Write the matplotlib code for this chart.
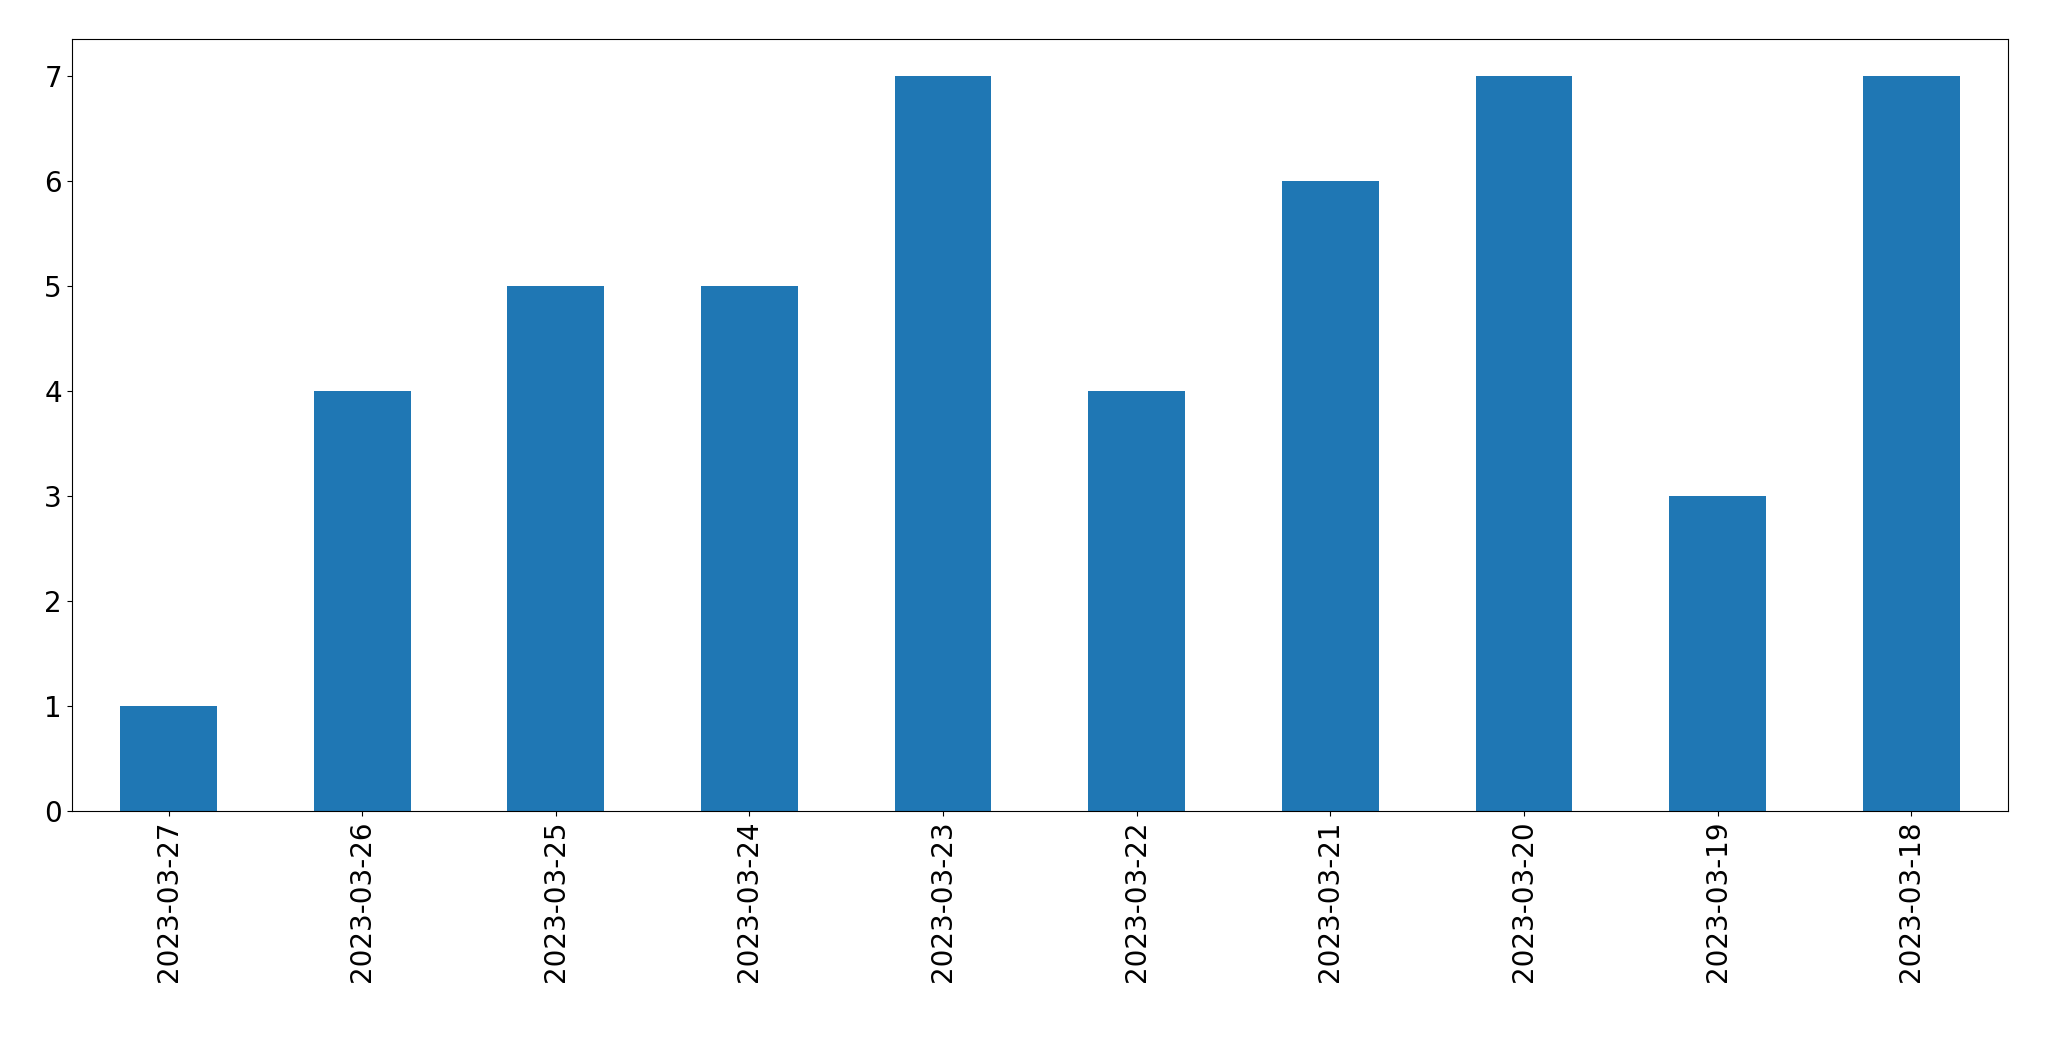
import pandas as pd
import matplotlib.pyplot as plt

dates = ['2023-03-27', '2023-03-26', '2023-03-25', '2023-03-24', '2023-03-23',
         '2023-03-22', '2023-03-21', '2023-03-20', '2023-03-19', '2023-03-18']
counts = [1, 4, 5, 5, 7, 4, 6, 7, 3, 7]

s = pd.Series(counts, index=dates)

fig, ax = plt.subplots(figsize=(20.49, 10.61), dpi=100)
s.plot(kind='bar', ax=ax, color='#1f77b4')
ax.tick_params(labelsize=20)
fig.subplots_adjust(left=0.035, right=0.98, top=0.963, bottom=0.236)
fig.savefig('out.png')
